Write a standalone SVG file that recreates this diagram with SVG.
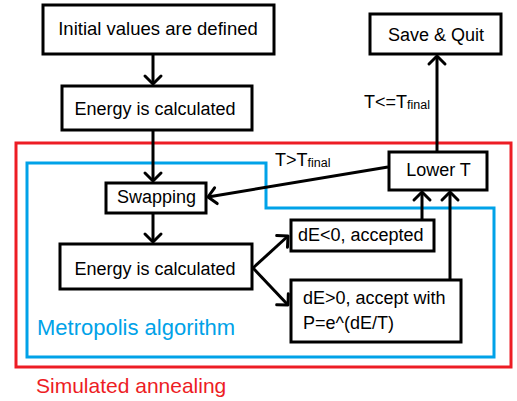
<svg xmlns="http://www.w3.org/2000/svg" width="517" height="401" viewBox="0 0 517 401">
<style>
.box{fill:#fff;stroke:#000;stroke-width:3}
.t{font-family:"Liberation Sans",Arial,sans-serif;font-size:18px;fill:#000}
.c{text-anchor:middle}
.ln{stroke:#000;stroke-width:3;fill:none;marker-end:url(#ah)}
</style>
<defs>
<marker id="ah" markerUnits="userSpaceOnUse" viewBox="-12 -12 24 24" markerWidth="24" markerHeight="24" refX="0" refY="0" orient="auto">
<path d="M-8,-8 L0,0 L-8,8" fill="none" stroke="#000" stroke-width="3" stroke-linecap="round" stroke-linejoin="round"/>
</marker>
</defs>
<g id="simulated-annealing">
<rect x="16" y="143" width="495" height="224" fill="none" stroke="#ED1C24" stroke-width="3"/>
<text x="36" y="393" class="t" style="font-size:21px;fill:#ED1C24">Simulated annealing</text>
</g>
<g id="metropolis">
<path d="M27,163 H266 V208 H494 V357 H27 Z" fill="none" stroke="#00A2E8" stroke-width="3"/>
<text x="37" y="335" class="t" style="font-size:22px;fill:#00A2E8">Metropolis algorithm</text>
</g>
<g id="connectors">
<line class="ln" x1="153" y1="55" x2="153" y2="84"/>
<line class="ln" x1="153" y1="131" x2="153" y2="181"/>
<line class="ln" x1="153" y1="214" x2="153" y2="242"/>
<line class="ln" x1="253" y1="268" x2="288" y2="236"/>
<line class="ln" x1="253" y1="268" x2="288" y2="305"/>
<line class="ln" x1="422" y1="219" x2="422" y2="192"/>
<line class="ln" x1="450" y1="279" x2="450" y2="192"/>
<line class="ln" x1="437" y1="151" x2="437" y2="56"/>
<line class="ln" x1="388" y1="167" x2="208" y2="197"/>
<text x="364" y="108" class="t">T&lt;=T<tspan style="font-size:12.5px" dy="1">final</tspan></text>
<text x="275" y="166" class="t">T&gt;T<tspan style="font-size:12.5px" dy="1">final</tspan></text>
</g>
<g id="initial">
<rect class="box" x="43" y="5" width="231" height="49"/>
<text class="t c" x="158" y="35" style="font-size:18.5px">Initial values are defined</text>
</g>
<g id="energy1">
<rect class="box" x="62" y="86" width="190" height="44"/>
<text class="t c" x="155" y="115">Energy is calculated</text>
</g>
<g id="save-quit">
<rect class="box" x="370" y="14" width="131" height="40"/>
<text class="t c" x="436" y="41">Save &amp; Quit</text>
</g>
<g id="lower-t">
<rect class="box" x="389" y="152" width="98" height="38"/>
<text class="t c" x="438.5" y="176">Lower T</text>
</g>
<g id="swapping">
<rect class="box" x="106" y="183" width="100" height="30"/>
<text class="t c" x="156.5" y="203">Swapping</text>
</g>
<g id="energy2">
<rect class="box" x="60" y="244" width="192" height="45"/>
<text class="t c" x="155" y="275">Energy is calculated</text>
</g>
<g id="accepted">
<rect class="box" x="291" y="220" width="143" height="31"/>
<text class="t" x="298" y="241">dE&lt;0, accepted</text>
</g>
<g id="accept-with-p">
<rect class="box" x="291" y="280" width="170" height="62"/>
<text class="t" x="303" y="304">dE&gt;0, accept with</text>
<text class="t" x="303" y="329">P=e^(dE/T)</text>
</g>
</svg>
